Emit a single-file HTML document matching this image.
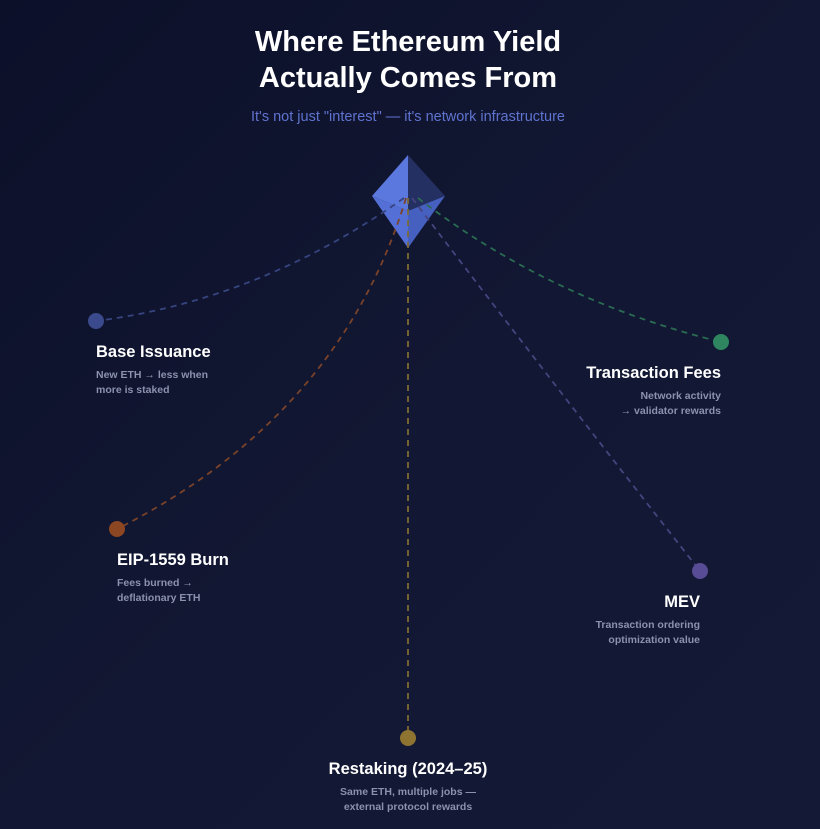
<!DOCTYPE html>
<html><head><meta charset="utf-8"><style>
html,body{margin:0;padding:0}
body{width:820px;height:829px;overflow:hidden;background:linear-gradient(135deg,#0c1029 0%,#121733 50%,#141a36 100%);font-family:"Liberation Sans",sans-serif;position:relative}
.t{position:absolute;color:#fff;font-weight:bold}
.d{position:absolute;color:#8b91ae;font-size:10.5px;font-weight:bold;line-height:15px}
</style></head><body>
<div class="t" style="left:0;width:816px;top:24px;text-align:center;font-size:29px;line-height:36px">Where Ethereum Yield<br>Actually Comes From</div>
<div style="position:absolute;left:0;width:816px;top:109px;text-align:center;font-size:14.5px;color:#5f73cf">It's not just "interest" — it's network infrastructure</div>
<svg width="820" height="829" style="position:absolute;left:0;top:0">
<polygon points="408,155 372,196 408,211" fill="#5b78df"/>
<polygon points="408,155 445,196 408,211" fill="#253062"/>
<polygon points="372,196 408,211 408,248" fill="#5470d6"/>
<polygon points="445,196 408,211 408,248" fill="#4660c0"/>
<g fill="none" stroke-width="1.8" stroke-dasharray="6,5">
<path d="M404,198 Q260,300 96,321" stroke="#36447f"/>
<path d="M406,198 Q340,416 117,529" stroke="#7a4329"/>
<path d="M408,198 L408,738" stroke="#7d6a33"/>
<path d="M412,198 Q561,394 700,571" stroke="#46447f"/>
<path d="M418,198 Q550,300 721,342" stroke="#2a6c52"/>
</g>
<circle cx="96" cy="321" r="8" fill="#3b4a8c"/>
<circle cx="721" cy="342" r="8" fill="#2e8560"/>
<circle cx="117" cy="529" r="8" fill="#8c4622"/>
<circle cx="700" cy="571" r="8" fill="#584c96"/>
<circle cx="408" cy="738" r="8" fill="#8e7430"/>
</svg>
<div class="t" style="left:96px;top:343px;font-size:16.5px">Base Issuance</div>
<div class="d" style="left:96px;top:368px">New ETH → less when<br>more is staked</div>
<div class="t" style="right:99px;top:364px;font-size:16.5px;text-align:right">Transaction Fees</div>
<div class="d" style="right:99px;top:389px;text-align:right">Network activity<br>→ validator rewards</div>
<div class="t" style="left:117px;top:551px;font-size:16.5px">EIP-1559 Burn</div>
<div class="d" style="left:117px;top:576px">Fees burned →<br>deflationary ETH</div>
<div class="t" style="right:120px;top:593px;font-size:16.5px;text-align:right">MEV</div>
<div class="d" style="right:120px;top:618px;text-align:right">Transaction ordering<br>optimization value</div>
<div class="t" style="left:258px;width:300px;top:760px;font-size:16.5px;text-align:center">Restaking (2024–25)</div>
<div class="d" style="left:258px;width:300px;top:785px;text-align:center">Same ETH, multiple jobs —<br>external protocol rewards</div>
</body></html>
